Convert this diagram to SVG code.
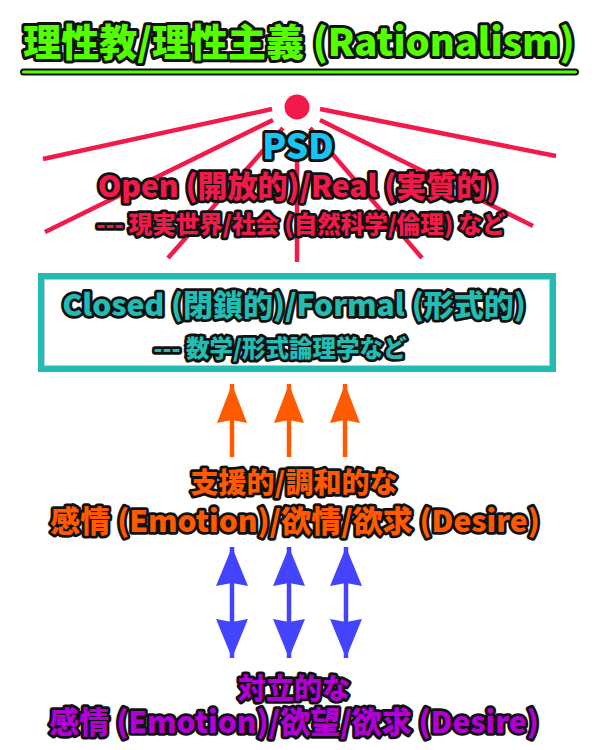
<svg xmlns="http://www.w3.org/2000/svg" width="600" height="750" viewBox="0 0 600 750">
  <style>
    .t { font-family: "Noto Sans CJK JP", "Noto Sans", sans-serif; font-weight: 900; text-anchor: middle; paint-order: stroke; stroke: #111; stroke-linejoin: round; }
    .title { font-size: 38px; fill: #55ff00; stroke-width: 6px; }
    .psd { font-size: 35px; fill: #19c3f2; stroke-width: 6px; }
    .red { fill: #f21a4b; stroke-width: 5.5px; }
    .teal { fill: #22bcb2; stroke-width: 5.5px; }
    .orange { fill: #ff5a00; stroke-width: 5.5px; }
    .purple { fill: #b000d4; stroke-width: 5.5px; }
    .big { font-size: 30px; }
    .small { font-size: 23.5px; }
    .mid { font-size: 28px; }
    .ray { stroke: #f21a4b; stroke-width: 4.5; stroke-linecap: butt; }
    .oshaft { stroke: #ff5a00; stroke-width: 4.5; }
    .bshaft { stroke: #4444ff; stroke-width: 4.5; }
  </style>
  <defs>
    <marker id="oh" markerUnits="userSpaceOnUse" markerWidth="40" markerHeight="32" viewBox="0 -16 40 32" refX="39" refY="0" orient="auto">
      <path d="M0,-15 L39,0 L0,15 L3,0 z" fill="#ff5a00"/>
    </marker>
    <marker id="bh" markerUnits="userSpaceOnUse" markerWidth="40" markerHeight="34" viewBox="0 -17 40 34" refX="39" refY="0" orient="auto-start-reverse">
      <path d="M0,-16 L39,0 L0,16 L3,0 z" fill="#4444ff"/>
    </marker>
  </defs>

  <g id="title">
    <text class="t title" x="299" y="56">理性教/理性主義 (Rationalism)</text>
    <rect x="21" y="69.5" width="557" height="5" rx="2.5" fill="#55ff00" stroke="#111" stroke-width="2"/>
  </g>

  <g id="psd-rays">
    <line class="ray" x1="272" y1="109" x2="43" y2="159"/>
    <line class="ray" x1="273" y1="120" x2="45" y2="232"/>
    <line class="ray" x1="283" y1="128" x2="168" y2="258"/>
    <line class="ray" x1="297" y1="132" x2="297" y2="262"/>
    <line class="ray" x1="310" y1="128" x2="422" y2="258"/>
    <line class="ray" x1="320" y1="120" x2="533" y2="226"/>
    <line class="ray" x1="320" y1="109" x2="556" y2="156"/>
    <circle cx="297" cy="107" r="12.5" fill="#f21a4b"/>
  </g>

  <g id="psd">
    <text class="t psd" x="298" y="159">PSD</text>
    <text class="t red big" x="298" y="197">Open (開放的)/Real (実質的)</text>
    <text class="t red small" x="301" y="233">--- 現実世界/社会 (自然科学/倫理) など</text>
  </g>

  <g id="closed">
    <rect x="41" y="276" width="512" height="93" fill="#ffffff" stroke="#22bcb2" stroke-width="6"/>
    <rect x="44.5" y="279.5" width="505" height="86" fill="none" stroke="#b8c8e8" stroke-width="1"/>
    <text class="t teal big" x="294" y="316">Closed (閉鎖的)/Formal (形式的)</text>
    <text class="t teal small" x="280" y="357">--- 数学/形式論理学など</text>
  </g>

  <g id="connectors">
    <line class="oshaft" x1="232" y1="457" x2="232" y2="384" marker-end="url(#oh)"/>
    <line class="oshaft" x1="289" y1="457" x2="289" y2="384" marker-end="url(#oh)"/>
    <line class="oshaft" x1="345" y1="457" x2="345" y2="384" marker-end="url(#oh)"/>
    <line class="bshaft" x1="232" y1="547" x2="232" y2="658" marker-start="url(#bh)" marker-end="url(#bh)"/>
    <line class="bshaft" x1="289" y1="547" x2="289" y2="658" marker-start="url(#bh)" marker-end="url(#bh)"/>
    <line class="bshaft" x1="346" y1="547" x2="346" y2="658" marker-start="url(#bh)" marker-end="url(#bh)"/>
  </g>

  <g id="supportive">
    <text class="t orange mid" x="294" y="493">支援的/調和的な</text>
    <text class="t orange big" x="295" y="532">感情 (Emotion)/欲情/欲求 (Desire)</text>
  </g>

  <g id="opposing">
    <text class="t purple mid" x="294" y="699">対立的な</text>
    <text class="t purple big" x="294" y="733">感情 (Emotion)/欲望/欲求 (Desire)</text>
  </g>
</svg>
